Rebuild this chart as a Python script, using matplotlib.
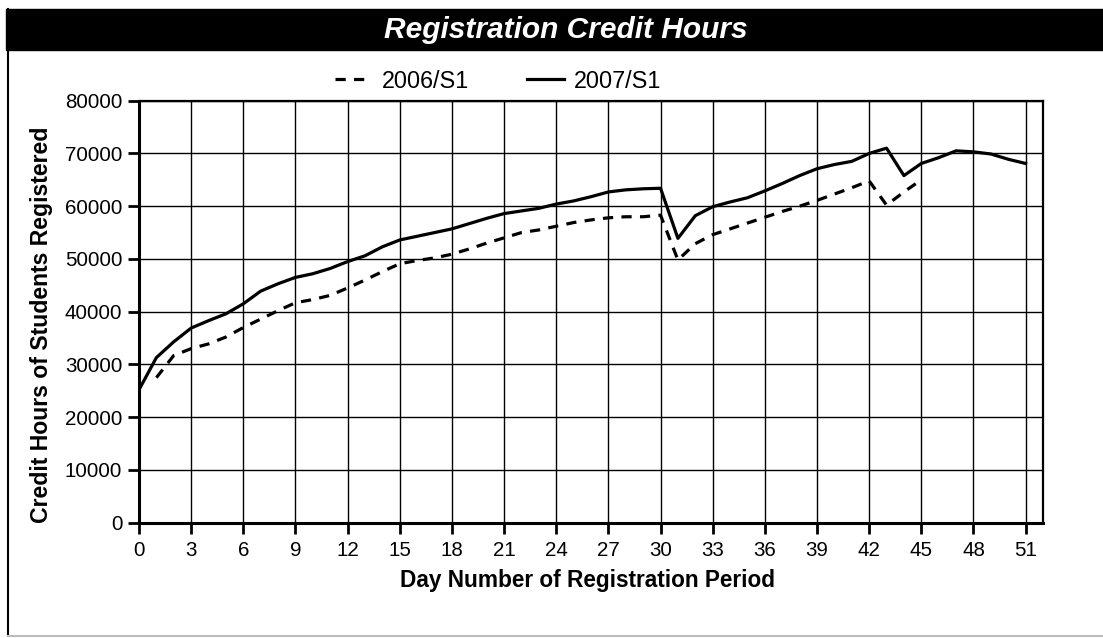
import matplotlib
matplotlib.use('Agg')
import matplotlib.pyplot as plt
from matplotlib.patches import Rectangle
from matplotlib.lines import Line2D

plt.rcParams['font.family'] = ['Liberation Sans', 'DejaVu Sans']

# credit hours by day of the registration period
days_2006 = list(range(1, 46))
hours_2006 = [27500, 31700, 33000, 33900, 35200, 37000, 38600, 40200, 41700, 42300,
              43100, 44500, 46000, 47600, 49100, 49700, 50200, 50900, 51900, 53000,
              54000, 55000, 55500, 56200, 56900, 57400, 57800, 58000, 58000, 58300,
              49800, 52900, 54600, 55700, 56800, 57900, 59000, 60000, 61100, 62300,
              63500, 64800, 60200, 62700, 65000]

days_2007 = list(range(0, 52))
hours_2007 = [25200, 31300, 34300, 36900, 38300, 39600, 41500, 43900, 45300, 46500,
              47200, 48200, 49500, 50600, 52300, 53600, 54300, 55000, 55700, 56700,
              57700, 58600, 59100, 59600, 60400, 61000, 61800, 62700, 63100, 63300,
              63400, 53900, 58200, 59900, 60800, 61600, 62900, 64300, 65800, 67100,
              67900, 68500, 70000, 71000, 65800, 68100, 69200, 70500, 70300, 69900,
              68900, 68100]

labels = ['2006/S1', '2007/S1']
x_ticks = list(range(0, 52, 3))
y_ticks = list(range(0, 80001, 10000))

W, H = 1103, 638
fig = plt.figure(figsize=(W / 100, H / 100), dpi=100)

# black title band
fig.patches.append(Rectangle((6 / W, 1 - 50 / H), 1 - 6 / W, 41 / H,
                             transform=fig.transFigure, color='black', zorder=0))
fig.text(566 / W, 1 - 30 / H, 'Registration Credit Hours', color='white',
         fontsize=21.5, fontweight='bold', fontstyle='italic', ha='center', va='center')
# outer frame
fig.lines.append(Line2D([8 / W, 8 / W], [0.003, 1 - 9 / H], transform=fig.transFigure,
                        color='black', lw=1.5))
fig.lines.append(Line2D([8 / W, 1], [0.003, 0.003], transform=fig.transFigure,
                        color='#bbbbbb', lw=1.5))

ax = fig.add_axes([139 / W, 1 - 522.7 / H, (1043 - 139) / W, (522.7 - 100.7) / H])
l1, = ax.plot(days_2006, hours_2006, color='black', lw=2.3, dashes=(3.2, 2.6),
              dash_capstyle='butt')
l2, = ax.plot(days_2007, hours_2007, color='black', lw=2.3, solid_joinstyle='round')

ax.set_xlim(0, 52)
ax.set_ylim(0, 80000)
ax.set_xticks(x_ticks)
ax.set_yticks(y_ticks)
ax.grid(True, color='black', lw=1.0)
ax.set_axisbelow(True)
for side in ['left', 'bottom']:
    ax.spines[side].set_linewidth(2.2)
for side in ['top', 'right']:
    ax.spines[side].set_linewidth(1.6)
ax.tick_params(axis='both', labelsize=14.8, length=8, width=2, color='black')
ax.tick_params(axis='x', pad=5)
ax.tick_params(axis='y', pad=4)

fig.text(42 / W, 1 - 325 / H, 'Credit Hours of Students Registered', rotation=90,
         fontsize=16.6, fontweight='bold', ha='center', va='center')
fig.text(588 / W, 1 - 580 / H, 'Day Number of Registration Period',
         fontsize=16.3, fontweight='bold', ha='center', va='center')

fig.legend([l1, l2], labels, loc='center', bbox_to_anchor=(498 / W, 1 - 81 / H),
           ncol=2, frameon=False, fontsize=16.8, handlelength=1.6,
           handletextpad=0.4, columnspacing=2.5)

fig.savefig('out.png', dpi=100, facecolor='white')
